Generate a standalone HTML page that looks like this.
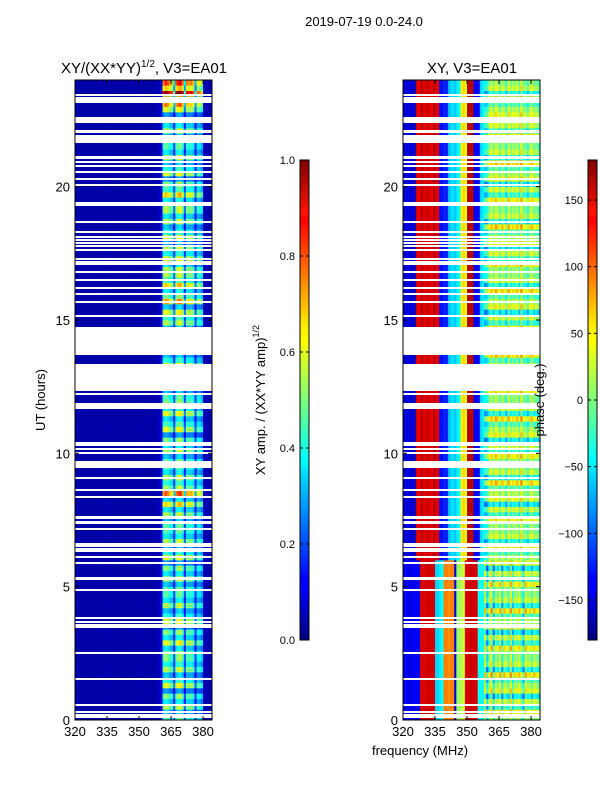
<!DOCTYPE html>
<html><head><meta charset="utf-8">
<style>
html,body{margin:0;padding:0;background:#fff;}
svg{display:block;font-family:"Liberation Sans","DejaVu Sans",sans-serif;}
</style></head>
<body>
<svg id="chart" width="600" height="800" viewBox="0 0 600 800">
  <defs>
    <linearGradient id="jetV" x1="0" y1="1" x2="0" y2="0">
      <stop offset="0" stop-color="#00007f"/>
      <stop offset="0.11" stop-color="#0000ff"/>
      <stop offset="0.125" stop-color="#0000ff"/>
      <stop offset="0.34" stop-color="#00d4ff"/>
      <stop offset="0.375" stop-color="#0ff"/>
      <stop offset="0.5" stop-color="#7dff7a"/>
      <stop offset="0.625" stop-color="#ff0"/>
      <stop offset="0.66" stop-color="#ffe600"/>
      <stop offset="0.875" stop-color="#f00"/>
      <stop offset="0.89" stop-color="#ff1300"/>
      <stop offset="1" stop-color="#7f0000"/>
    </linearGradient>
  </defs>
  <text x="364" y="26" font-size="13" text-anchor="middle">2019-07-19 0.0-24.0</text>
  <g id="leftCells"></g>
  <g id="rightCells"></g>
  <g id="gapsG"></g>
  <g id="axesG"></g>
  <text x="144" y="73" font-size="15" text-anchor="middle">XY/(XX*YY)<tspan font-size="10" dy="-6">1/2</tspan><tspan dy="6">, V3=EA01</tspan></text>
  <text x="472" y="73" font-size="15" text-anchor="middle">XY, V3=EA01</text>
  <text transform="translate(45,400) rotate(-90)" font-size="13" text-anchor="middle">UT (hours)</text>
  <text x="420" y="755" font-size="13" text-anchor="middle">frequency (MHz)</text>
  <text transform="translate(265,400) rotate(-90)" font-size="13" text-anchor="middle">XY amp. / (XX*YY amp)<tspan font-size="9" dy="-6">1/2</tspan></text>
  <text transform="translate(544,400) rotate(-90)" font-size="13" text-anchor="middle">phase (deg.)</text>
  <rect x="300" y="160" width="9" height="480" fill="url(#jetV)" stroke="#000" stroke-width="1"/>
  <rect x="588" y="160" width="9" height="480" fill="url(#jetV)" stroke="#000" stroke-width="1"/>
  <g id="cbG"></g>
</svg>
<script>
// ---- data ----
const freqs = [];                 // 1 MHz channels 320..383
for (let f = 320; f <= 383; f++) freqs.push(f);
const ampProfile = [0.04,0.04,0.04,0.04,0.04,0.04,0.04,0.04,0.04,0.04,0.04,0.04,0.04,0.04,0.04,0.05,0.04,0.04,0.04,0.04,
  0.04,0.04,0.04,0.04,0.04,0.04,0.04,0.04,0.04,0.04,0.05,0.04,0.04,0.04,0.04,0.04,0.04,0.04,0.05,0.06,
  0.09,0.42,0.48,0.45,0.4,0.38,0.2,0.45,0.48,0.5,0.42,0.2,0.42,0.4,0.42,0.38,0.18,0.36,0.35,0.3,0.05,0.05,0.05,0.05];
const phaseUpper = [-150,-150,-145,-150,-155,-150,150,140,160,150,145,155,150,140,160,150,145,-130,-130,-120,-130,
  -70,-60,-55,-65,-50,-40,50,60,45,160,165,155,-140,-140,-135,-60,-50,-45,-35,
  0,20,-10,30,10,-20,20,0,-30,30,-10,10,0,20,-20,40,-10,0,-30,10,20,-10,0,-20];
const phaseLower = [-140,-140,-140,-145,-140,-135,-140,-140,150,150,145,155,150,150,150,-60,-60,-50,-40,90,90,85,90,90,
  -150,10,10,20,30,150,150,155,150,150,150,-40,-40,-40,
  20,-60,0,40,-50,10,-10,30,-40,20,0,-20,40,-30,10,0,20,-10,-50,30,0,10,-20,20,0,-10];
const rowAmpPattern = [1.0,0.7,1.2,0.8,1.1,0.6,1.3,0.9,0.7,1.2,0.8,1.0];
const rowPhasePattern = [0,40,-30,20,-50,30,10,-20,50,-40,20,0];
const hourBoost = [1,1,1.1,1,1,1,1,1,1.3,1,1,1.1,1,1,1,1.2,1.2,1.1,1,1.2,1,1,1,1.8];
const gapCenters = [0.11,0.19,0.3,0.56,1.54,2.51,3.49,3.56,3.67,3.82,4.87,5.32,5.89,6.11,6.37,6.52,6.6,7.16,7.42,7.6,
  8.36,8.62,9.07,9.57,10.01,10.16,10.31,10.39,11.7,11.77,11.85,12.22,12.85,14.2,15.15,15.67,16.0,16.2,16.5,16.8,
  17.1,17.17,17.29,17.62,17.77,17.89,18.0,18.11,18.3,18.67,19.31,19.39,20.06,20.29,20.55,20.77,20.92,21.1,
  21.67,21.75,21.82,21.9,22.05,22.42,22.5,22.57,23.24,23.43];
const gapWidths = [0.06,0.06,0.08,0.06,0.06,0.06,0.06,0.06,0.06,0.06,0.06,0.12,0.06,0.06,0.14,0.06,0.06,0.06,0.12,0.12,
  0.06,0.08,0.06,0.25,0.06,0.06,0.06,0.06,0.06,0.06,0.06,0.06,1.02,1.05,0.08,0.06,0.06,0.06,0.06,0.06,
  0.06,0.06,0.06,0.06,0.06,0.06,0.06,0.06,0.06,0.06,0.06,0.06,0.06,0.06,0.06,0.06,0.06,0.1,
  0.06,0.06,0.06,0.06,0.12,0.06,0.06,0.06,0.24,0.06];
const hourTicks = [0,5,10,15,20];
const freqTicks = [320,335,350,365,380];
const ampTicks = [0.0,0.2,0.4,0.6,0.8,1.0];
const phaseTicks = [-150,-100,-50,0,50,100,150];

// ---- scales ----
const T0 = 80, T1 = 720, FMIN = 320, FMAX = 384.2;
const yS = h => T1 - (h / 24) * (T1 - T0);
const xS = (x0, f) => x0 + (f - FMIN) / (FMAX - FMIN) * 137;
const LX = 75, RX = 403;
function jet(v){
  v = Math.max(0, Math.min(1, v));
  const r = Math.max(0, Math.min(1, 1.5 - Math.abs(4*v - 3)));
  const g = Math.max(0, Math.min(1, 1.5 - Math.abs(4*v - 2)));
  const b = Math.max(0, Math.min(1, 1.5 - Math.abs(4*v - 1)));
  return `rgb(${Math.round(r*255)},${Math.round(g*255)},${Math.round(b*255)})`;
}
const NS = 'http://www.w3.org/2000/svg';
function mk(tag, attrs, parent){
  const e = document.createElementNS(NS, tag);
  for (const k in attrs) e.setAttribute(k, attrs[k]);
  parent.appendChild(e); return e;
}
const leftG = document.getElementById('leftCells');
const rightG = document.getElementById('rightCells');
const gapsG = document.getElementById('gapsG');
const axesG = document.getElementById('axesG');
const cbG = document.getElementById('cbG');

const DH = 0.2;
const nRows = Math.round(24 / DH);
for (let r = 0; r < nRows; r++) {
  const h0 = r * DH, h1 = h0 + DH;
  const ya = yS(h1), yb = yS(h0);
  const hb = hourBoost[Math.floor(h0)];
  const ra = rowAmpPattern[r % rowAmpPattern.length];
  const rp = rowPhasePattern[r % rowPhasePattern.length];
  for (let c = 0; c < freqs.length; c++) {
    const f = freqs[c];
    let a = ampProfile[c];
    if (a > 0.15) a = a * ra * hb;
    const c1 = mk('rect', {x: xS(LX, f).toFixed(2), y: ya.toFixed(2), width: (xS(LX, f+1) - xS(LX, f) + 0.3).toFixed(2), height: (yb - ya + 0.3).toFixed(2), fill: jet(a)}, leftG);
    
    
    let p = (h0 < 6 ? phaseLower : phaseUpper)[c];
    if (f >= 358) p = p + rp;
    p = Math.max(-180, Math.min(180, p));
    const c2 = mk('rect', {x: xS(RX, f).toFixed(2), y: ya.toFixed(2), width: (xS(RX, f+1) - xS(RX, f) + 0.3).toFixed(2), height: (yb - ya + 0.3).toFixed(2), fill: jet((p + 180) / 360)}, rightG);
    
    
  }
}
[LX, RX].forEach(x0 => {
  const cl = mk('rect', {x: x0 + 137, y: T0, width: 20, height: T1 - T0, fill: '#fff'}, gapsG);
  
  
});
for (let i = 0; i < gapCenters.length; i++) {
  const ya = yS(gapCenters[i] + gapWidths[i] / 2), yb = yS(gapCenters[i] - gapWidths[i] / 2);
  [LX, RX].forEach(x0 => {
    const g = mk('rect', {x: x0, y: Math.round(ya), width: 137, height: Math.max(2, Math.round(yb - ya)), fill: '#fff'}, gapsG);
    
    
  });
}
[LX, RX].forEach((x0, pi) => {
  const fr = mk('rect', {x: x0, y: T0, width: 137, height: T1 - T0, fill: 'none', stroke: '#000', 'stroke-width': 1}, axesG);
  
  
  hourTicks.forEach(h => {
    const y = yS(h);
    mk('line', {x1: x0, x2: x0 + 4, y1: y, y2: y, stroke: '#000'}, axesG);
    mk('line', {x1: x0 + 137, x2: x0 + 133, y1: y, y2: y, stroke: '#000'}, axesG);
    const t = mk('text', {x: x0 - 5, y: y + 5, 'font-size': 13, 'text-anchor': 'end'}, axesG);
    t.textContent = h;
    
    
  });
  freqTicks.forEach(f => {
    const x = xS(x0, f);
    mk('line', {x1: x, x2: x, y1: T1, y2: T1 - 4, stroke: '#000'}, axesG);
    mk('line', {x1: x, x2: x, y1: T0, y2: T0 + 4, stroke: '#000'}, axesG);
    const t = mk('text', {x: x, y: T1 + 16, 'font-size': 13, 'text-anchor': 'middle'}, axesG);
    t.textContent = f;
    
    
  });
});
ampTicks.forEach(v => {
  const y = 640 - v * 480;
  mk('line', {x1: 300, x2: 303, y1: y, y2: y, stroke: '#000'}, cbG);
  mk('line', {x1: 309, x2: 306, y1: y, y2: y, stroke: '#000'}, cbG);
  const t = mk('text', {x: 295, y: y + 4, 'font-size': 11, 'text-anchor': 'end'}, cbG);
  t.textContent = v.toFixed(1);
  
  
});
phaseTicks.forEach(v => {
  const y = 640 - (v + 180) / 360 * 480;
  mk('line', {x1: 588, x2: 591, y1: y, y2: y, stroke: '#000'}, cbG);
  mk('line', {x1: 597, x2: 594, y1: y, y2: y, stroke: '#000'}, cbG);
  const t = mk('text', {x: 583, y: y + 4, 'font-size': 11, 'text-anchor': 'end'}, cbG);
  t.textContent = v < 0 ? '\u2212' + Math.abs(v) : v;
  
  
});
</script>
</body></html>
